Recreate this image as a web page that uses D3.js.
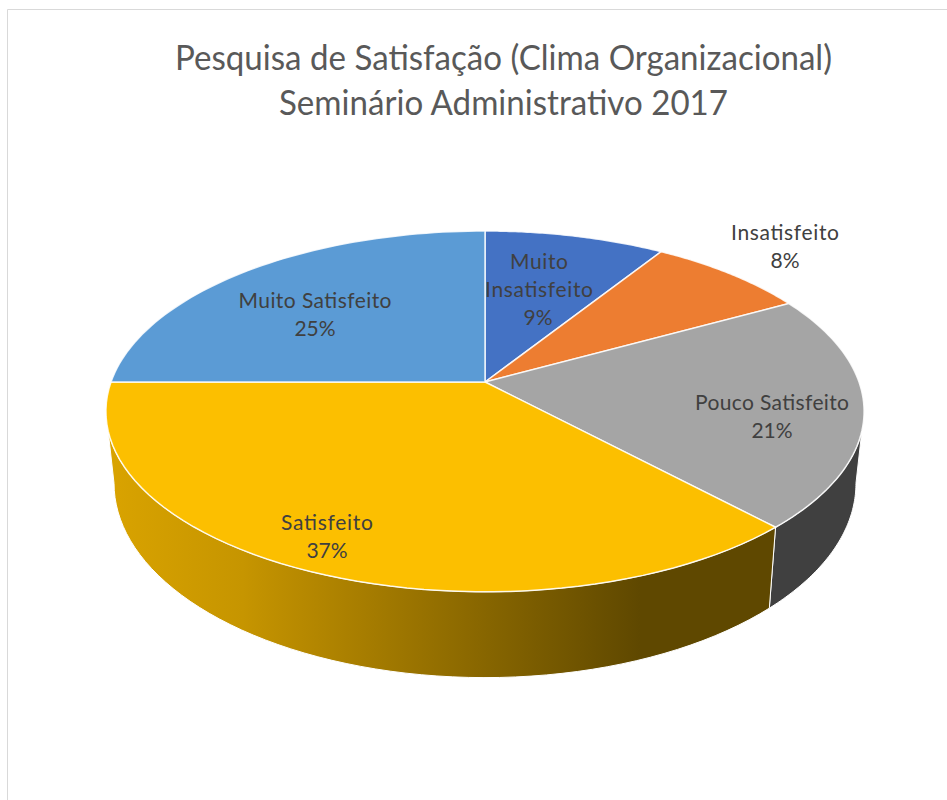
<!DOCTYPE html>
<html>
<head>
<meta charset="utf-8">
<script src="https://cdn.jsdelivr.net/npm/d3@7/dist/d3.min.js"></script>
<style>
  html, body { margin: 0; padding: 0; background: #fff; }
</style>
</head>
<body>
<div id="chart"></div>
<script>
const width = 947;
const height = 800;

const titleLines = ["Pesquisa de Satisfação (Clima Organizacional)", "Seminário Administrativo 2017"];
const categories = ["Muito Insatisfeito", "Insatisfeito", "Pouco Satisfeito", "Satisfeito", "Muito Satisfeito"];
const values = [9, 8, 21, 37, 25];
const topColours = ["#4472c4", "#ed7d31", "#a5a5a5", "#fcbf00", "#5b9bd5"];

// hand placed label lines, one entry per category
const labelLayout = [
  [{text: "Muito", x: 539, y: 269, w: 58}, {text: "Insatisfeito", x: 539, y: 297, w: 108}, {pct: true, x: 538, y: 325}],
  [{text: "Insatisfeito", x: 785, y: 240, w: 108}, {pct: true, x: 785, y: 268}],
  [{text: "Pouco Satisfeito", x: 772, y: 410, w: 154}, {pct: true, x: 772, y: 438}],
  [{text: "Satisfeito", x: 327, y: 530, w: 92}, {pct: true, x: 327, y: 558}],
  [{text: "Muito Satisfeito", x: 315, y: 308, w: 153}, {pct: true, x: 315, y: 336}]
];

// perspective settings of the two discs
const persp = 0.163;
const topDisc = {cx: 485, cy: 382, r: 374, k: 175.6};
const bottomDisc = {cx: 485, cy: 451.8, r: 366, k: 189};

const svg = d3.select("#chart").append("svg")
  .attr("width", width)
  .attr("height", height)
  .style("display", "block")
  .style("background-color", "#fff");

// chart frame, only left and top show up in the picture
svg.append("path")
  .attr("d", `M7.5,${height} L7.5,9.5 L${width},9.5`)
  .attr("fill", "none")
  .attr("stroke", "#d9d9d9")
  .attr("stroke-width", 1);

// title
svg.selectAll(".title")
  .data(titleLines)
  .join("text")
  .attr("class", "title")
  .attr("x", (d, i) => i === 0 ? 175 : 279)
  .attr("y", (d, i) => i === 0 ? 70 : 115)
  .attr("textLength", (d, i) => i === 0 ? 657 : 449)
  .attr("lengthAdjust", "spacingAndGlyphs")
  .style("font-family", "Lato, 'Open Sans', sans-serif")
  .style("font-size", "35px")
  .style("fill", "#595959")
  .text(d => d);

const pie = d3.pie().value(d => d).sort(null);
const arcs = pie(values);

// project an angle (clockwise from the top) on a disc
function project(disc, a) {
  const u = Math.sin(a);
  const v = -Math.cos(a);
  const s = 1 / (1 - persp * v);
  return [disc.cx + disc.r * u * s, disc.cy + disc.k * v * s];
}

function arcPoints(disc, a0, a1) {
  return d3.range(0, 61).map(i => project(disc, a0 + (a1 - a0) * i / 60));
}

const line = d3.line();

// the wall is only seen between the two tangent angles
const tangentRight = Math.acos(-persp);
const tangentLeft = 2 * Math.PI - tangentRight;

const defs = svg.append("defs");
const yellowGrad = defs.append("linearGradient")
  .attr("id", "wall-yellow")
  .attr("gradientUnits", "userSpaceOnUse")
  .attr("x1", 110).attr("x2", 640)
  .attr("y1", 0).attr("y2", 0);
[[0, "#d9a300"], [0.25, "#c69500"], [0.36, "#b78900"], [1, "#5f4800"]].forEach(s => {
  yellowGrad.append("stop").attr("offset", s[0]).attr("stop-color", s[1]);
});
const wallFills = ["#2a4a80", "#9a5120", "#404040", "url(#wall-yellow)", "#3b6a94"];

// walls
const visibleWalls = arcs
  .map((d, i) => ({
    i: i,
    a0: Math.max(d.startAngle, tangentRight),
    a1: Math.min(d.endAngle, tangentLeft)
  }))
  .filter(d => d.a1 > d.a0);

svg.selectAll(".wall")
  .data(visibleWalls)
  .join("path")
  .attr("class", "wall")
  .attr("d", d => line(
    arcPoints(topDisc, d.a0, d.a1).concat(arcPoints(bottomDisc, d.a0, d.a1).reverse())
  ) + "Z")
  .attr("fill", d => wallFills[d.i])
  .attr("stroke", "#fff")
  .attr("stroke-width", 1);

// top faces
svg.selectAll(".slice")
  .data(arcs)
  .join("path")
  .attr("class", "slice")
  .attr("d", d => line(
    [[topDisc.cx, topDisc.cy]].concat(arcPoints(topDisc, d.startAngle, d.endAngle))
  ) + "Z")
  .attr("fill", (d, i) => topColours[i])
  .attr("stroke", "#fff")
  .attr("stroke-opacity", 0.85)
  .attr("stroke-width", 1.5)
  .attr("stroke-linejoin", "round");

// labels
const total = d3.sum(values);
const pct = d3.format(".0%");
const labelG = svg.selectAll(".label")
  .data(labelLayout)
  .join("g")
  .attr("class", "label");

labelG.selectAll("text")
  .data((d, i) => d.map(l => ({...l, value: values[i]})))
  .join("text")
  .attr("x", d => d.x)
  .attr("y", d => d.y)
  .attr("text-anchor", "middle")
  .attr("textLength", d => d.w ? d.w : null)
  .attr("lengthAdjust", "spacing")
  .style("font-family", "Lato, 'Open Sans', sans-serif")
  .style("font-size", "21px")
  .style("fill", "#404040")
  .text(d => d.pct ? pct(d.value / total) : d.text);
</script>
</body>
</html>
